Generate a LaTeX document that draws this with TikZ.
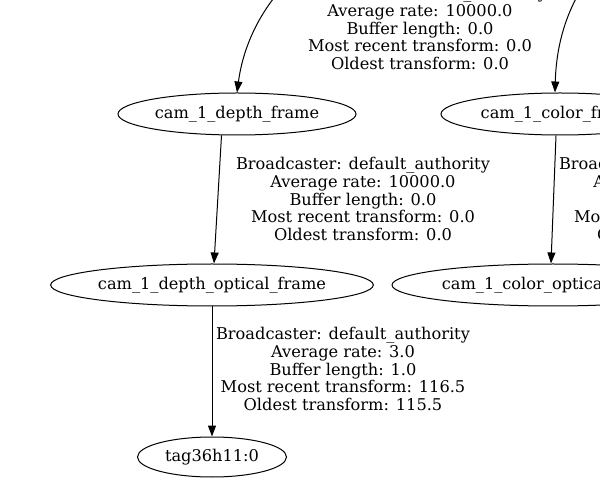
\documentclass[tikz,border=0pt]{standalone}
\usepackage{fontspec}
\setmainfont{DejaVu Serif}
\usetikzlibrary{shapes.geometric,arrows.meta}
\begin{document}
\begin{tikzpicture}[x=1pt,y=-1pt,
  frame/.style={draw, ellipse, inner sep=0pt, line width=1pt, font=\fontsize{16.2}{17.7}\selectfont},
  lbl/.style={align=center, inner sep=0pt, font=\fontsize{16.2}{17.7}\selectfont},
  edge/.style={draw, line width=1pt, -{Triangle[length=11pt,width=8pt]}}]
\useasboundingbox (0,0) rectangle (600,494);
\clip (0,0) rectangle (600,494);
% nodes
\node[frame, minimum width=238pt, minimum height=42pt] (df) at (237,114) {cam\_1\_depth\_frame};
\node[frame, minimum width=238pt, minimum height=42pt] (cf) at (560,114) {cam\_1\_color\_frame};
\node[frame, minimum width=322pt, minimum height=42pt] (dof) at (212,285) {cam\_1\_depth\_optical\_frame};
\node[frame, minimum width=322pt, minimum height=42pt] (cof) at (553,285) {cam\_1\_color\_optical\_frame};
\node[frame, minimum width=149pt, minimum height=40pt] (tag) at (212,457) {tag36h11:0};
% off-canvas parents
\coordinate (pl) at (300,-30);
\coordinate (pr) at (595,-30);
% edges
\draw[edge] (pl) .. controls (255,10) and (242,55) .. (df.north);
\draw[edge] (pr) .. controls (562,10) and (556,55) .. ([xshift=-5pt]cf.north);
\draw[edge] (df.234) -- ([xshift=2pt]dof.north);
\draw[edge] ([xshift=-4pt]cf.south) -- ([xshift=-2pt]cof.north);
\draw[edge] (dof.south) -- (tag.north);
% labels
\node[lbl] (l0) at (420,28) {Broadcaster: default\_authority\\Average rate: 10000.0\\Buffer length: 0.0\\Most recent transform: 0.0\\Oldest transform: 0.0};
\node[lbl] (l1) at (363,199) {Broadcaster: default\_authority\\Average rate: 10000.0\\Buffer length: 0.0\\Most recent transform: 0.0\\Oldest transform: 0.0};
\node[lbl] (l2) at (686,199) {Broadcaster: default\_authority\\Average rate: 10000.0\\Buffer length: 0.0\\Most recent transform: 0.0\\Oldest transform: 0.0};
\node[lbl] (l3) at (343,369) {Broadcaster: default\_authority\\Average rate: 3.0\\Buffer length: 1.0\\Most recent transform: 116.5\\Oldest transform: 115.5};
\end{tikzpicture}
\end{document}
